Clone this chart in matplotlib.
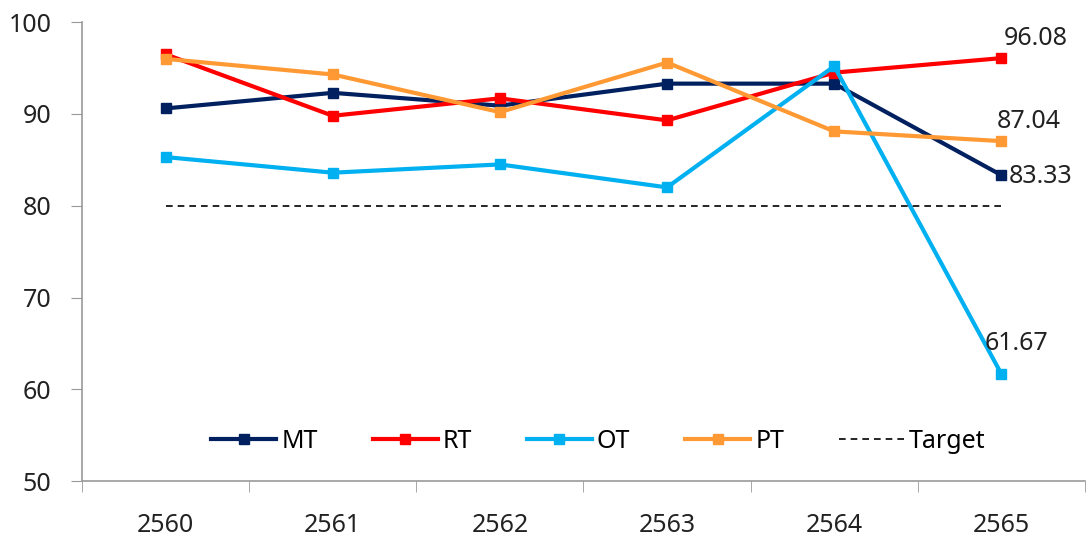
import matplotlib.pyplot as plt
import numpy as np

plt.rcParams['font.family'] = ['Noto Sans', 'DejaVu Sans']

years = ['2560', '2561', '2562', '2563', '2564', '2565']
mt = [90.6, 92.3, 90.9, 93.3, 93.3, 83.33]
rt = [96.5, 89.8, 91.7, 89.3, 94.5, 96.08]
ot = [85.3, 83.6, 84.5, 82.0, 95.2, 61.67]
pt = [96.0, 94.3, 90.2, 95.6, 88.1, 87.04]
target = 80

x = np.arange(len(years))
fs = 18
tc = '#222222'

fig = plt.figure(figsize=(10.89, 5.4), dpi=100)
ax = fig.add_axes([0.0753, 0.109, 0.921, 0.850])

ax.plot(x, mt, color='#002060', lw=3, marker='s', ms=7, label='MT')
ax.plot(x, rt, color='#FF0000', lw=3, marker='s', ms=7, label='RT')
ax.plot(x, ot, color='#00B0F0', lw=3, marker='s', ms=7, label='OT')
ax.plot(x, pt, color='#FF9933', lw=3, marker='s', ms=7, label='PT')
ax.plot(x, [target] * len(x), color='black', lw=1.2, ls=(0, (4, 3)), label='Target')

# end labels
ax.annotate('%.2f' % rt[-1], (x[-1], rt[-1]), xytext=(2, 5), textcoords='offset points',
            ha='left', va='bottom', fontsize=fs, color=tc)
ax.annotate('%.2f' % pt[-1], (x[-1], pt[-1]), xytext=(-3, 5), textcoords='offset points',
            ha='left', va='bottom', fontsize=fs, color=tc)
ax.annotate('%.2f' % mt[-1], (x[-1], mt[-1]), xytext=(5, -1), textcoords='offset points',
            ha='left', va='center', fontsize=fs, color=tc)
ax.annotate('%.2f' % ot[-1], (x[-1], ot[-1]), xytext=(-12, 13), textcoords='offset points',
            ha='left', va='bottom', fontsize=fs, color=tc)

ax.set_xlim(-0.5, len(years) - 0.5)
ax.set_ylim(50, 100)
ax.set_yticks(np.arange(50, 101, 10))
ax.set_xticks(x)
ax.set_xticklabels(years)
ax.set_xticks(np.arange(-0.5, len(years)), minor=True)
ax.tick_params(axis='x', which='major', length=0, pad=23, labelsize=fs, labelcolor=tc)
ax.tick_params(axis='x', which='minor', length=8, color='#999999', direction='out')
ax.tick_params(axis='y', length=8, color='#999999', pad=14, labelsize=fs, labelcolor=tc)

for s in ['top', 'right']:
    ax.spines[s].set_visible(False)
for s in ['left', 'bottom']:
    ax.spines[s].set_color('#999999')
    ax.spines[s].set_linewidth(1.2)

ax.legend(loc='center', bbox_to_anchor=(0.515, 0.087), ncol=5, frameon=False,
          fontsize=fs, handlelength=2.6, columnspacing=2.2, handletextpad=0.2)

plt.savefig('out.png', dpi=100)
